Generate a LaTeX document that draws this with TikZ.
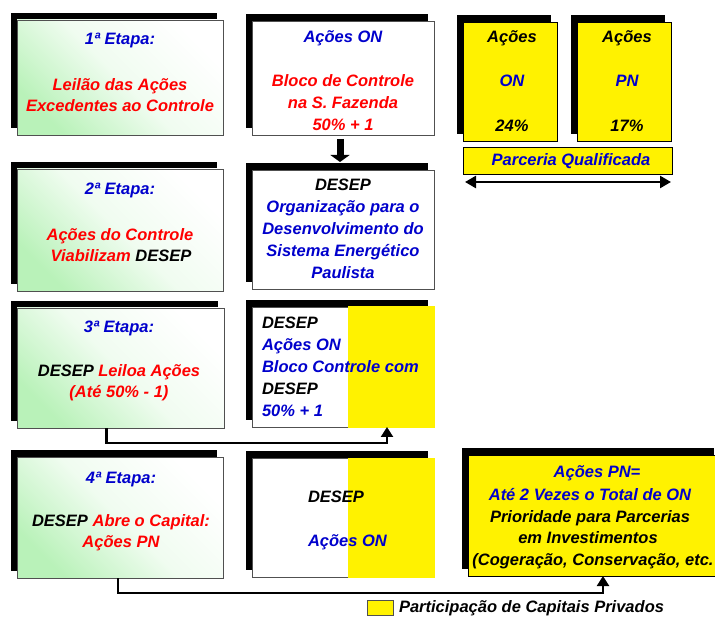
\documentclass[tikz,border=0pt]{standalone}
\usepackage{fontspec}
\setmainfont{Liberation Sans}
\usetikzlibrary{arrows.meta,shadows}
\definecolor{tblue}{RGB}{0,0,204}
\definecolor{tred}{RGB}{255,0,0}
\definecolor{lgreen}{RGB}{185,242,185}
\definecolor{mgreen}{RGB}{240,252,240}
\definecolor{bgray}{RGB}{80,80,80}
\tikzset{
  shadowed/.style={general shadow={fill=black, shadow xshift=-6pt, shadow yshift=7pt}},
  boxbase/.style={shadowed, anchor=north west, inner sep=0pt, outer sep=0pt, line width=0.8pt},
  greenbox/.style={boxbase, draw=bgray, top color=white, bottom color=lgreen, middle color=mgreen, shading angle=-45},
  whitebox/.style={boxbase, draw=bgray, fill=white},
  yellowbox/.style={boxbase, draw=black, fill=yellow},
  plainyellow/.style={anchor=north west, inner sep=0pt, outer sep=0pt, line width=0.8pt, draw=black, fill=yellow},
  lbl/.style={anchor=base, inner sep=0pt, outer sep=0pt, font=\fontsize{16.5}{22}\selectfont\bfseries\itshape},
  lblw/.style={lbl, anchor=base west},
  cblue/.style={text=tblue}, cred/.style={text=tred},
  conn/.style={line width=2.2pt, -{Triangle[length=10pt,width=12pt]}},
}
\begin{document}
\begin{tikzpicture}[x=1pt,y=-1pt]
\fill[white] (0,0) rectangle (715,617);
\useasboundingbox (0,0) rectangle (715,617);

% Row 1
\node[greenbox, minimum width=206pt, minimum height=115pt] (b11) at (17,20) {};
\node[lbl, cblue] (t11a) at (120,45) {1ª Etapa:};
\node[lbl, cred] (t11b) at (120,91) {Leilão das Ações};
\node[lbl, cred] (t11c) at (120,112) {Excedentes ao Controle};

\node[whitebox, minimum width=182pt, minimum height=114pt] (b12) at (252,21) {};
\node[lbl, cblue] (t12a) at (343,43) {Ações ON};
\node[lbl, cred] (t12b) at (343,87) {Bloco de Controle};
\node[lbl, cred] (t12c) at (343,109) {na S. Fazenda};
\node[lbl, cred] (t12d) at (343,131) {50\% + 1};

\node[yellowbox, minimum width=94pt, minimum height=119pt] (b13) at (463,22) {};
\node[lbl] (t13a) at (512,43) {Ações};
\node[lbl, cblue] (t13b) at (512,87) {ON};
\node[lbl] (t13c) at (512,132) {24\%};

\node[yellowbox, minimum width=94pt, minimum height=119pt] (b14) at (577,22) {};
\node[lbl] (t14a) at (627,43) {Ações};
\node[lbl, cblue] (t14b) at (627,87) {PN};
\node[lbl] (t14c) at (627,132) {17\%};

\node[plainyellow, minimum width=209pt, minimum height=27pt] (pq) at (463,147) {};
\node[lbl, cblue] (tpq) at (571,166) {Parceria Qualificada};
\draw[line width=2.5pt, {Triangle[length=11pt,width=12pt]}-{Triangle[length=11pt,width=12pt]}]
  ([xshift=2pt,yshift=-8pt]pq.south west) -- ([xshift=-1pt,yshift=-8pt]pq.south east);

% Row 2
\node[greenbox, minimum width=206pt, minimum height=122pt] (b21) at (17,169) {};
\node[lbl, cblue] (t21a) at (120,195) {2ª Etapa:};
\node[lbl, cred] (t21b) at (120,241) {Ações do Controle};
\node[lbl] (t21c) at (121,262) {\textcolor{tred}{Viabilizam} DESEP};

\node[whitebox, minimum width=182pt, minimum height=119pt] (b22) at (252,170) {};
\node[lbl] (t22a) at (343,191) {DESEP};
\node[lbl, cblue] (t22b) at (343,213) {Organização para o};
\node[lbl, cblue] (t22c) at (343,235) {Desenvolvimento do};
\node[lbl, cblue] (t22d) at (343,257) {Sistema Energético};
\node[lbl, cblue] (t22e) at (343,279) {Paulista};

\draw[line width=7pt, -{Triangle[length=7pt,width=19pt]}]
  ([xshift=-3pt,yshift=-4pt]b12.south) -- ([xshift=-3pt,yshift=8pt]b22.north);

% Row 3
\node[greenbox, minimum width=207pt, minimum height=120pt] (b31) at (17,308) {};
\node[lbl, cblue] (t31a) at (119,333) {3ª Etapa:};
\node[lbl] (t31b) at (119,377) {DESEP \textcolor{tred}{Leiloa Ações}};
\node[lbl, cred] (t31c) at (119,398) {(Até 50\% - 1)};

\node[whitebox, minimum width=182pt, minimum height=120pt] (b32) at (252,307) {};
\fill[yellow] ([xshift=5pt,yshift=0.5pt]b32.north) rectangle ([xshift=0.6pt,yshift=-0.6pt]b32.south east);
\node[lblw] (t32a) at (262,329) {DESEP};
\node[lblw, cblue] (t32b) at (262,351) {Ações ON};
\node[lblw, cblue] (t32c) at (262,373) {Bloco Controle com};
\node[lblw] (t32d) at (262,395) {DESEP};
\node[lblw, cblue] (t32e) at (262,417) {50\% + 1};

\draw[conn] ([xshift=-14pt]b31.south) -- ++(0,15) -| ([xshift=44pt]b32.south);

% Row 4
\node[greenbox, minimum width=206pt, minimum height=121pt] (b41) at (17,457) {};
\node[lbl, cblue] (t41a) at (121,483) {4ª Etapa:};
\node[lbl] (t41b) at (121,526) {DESEP \textcolor{tred}{Abre o Capital:}};
\node[lbl, cred] (t41c) at (121,547) {Ações PN};

\node[whitebox, minimum width=182pt, minimum height=119pt] (b42) at (252,458) {};
\fill[yellow] ([xshift=5pt,yshift=0.5pt]b42.north) rectangle ([xshift=0.6pt,yshift=-0.6pt]b42.south east);
\node[lblw] (t42a) at (308,502) {DESEP};
\node[lblw, cblue] (t42b) at (308,546) {Ações ON};

\node[yellowbox, minimum width=252pt, minimum height=121pt] (b43) at (468,455) {};
\node[lbl, cblue] (t43a) at (597,477) {Ações PN=};
\node[lbl, cblue] (t43b) at (590,500) {Até 2 Vezes o Total de ON};
\node[lbl] (t43c) at (590,522) {Prioridade para Parcerias};
\node[lbl] (t43d) at (588,543) {em Investimentos};
\node[lbl] (t43e) at (593,565) {(Cogeração, Conservação, etc.};

\draw[conn] ([xshift=-2pt]b41.south) -- ++(0,15) -| ([xshift=9pt]b43.south);

% Legend
\node[anchor=north west, inner sep=0pt, outer sep=0pt, line width=0.8pt, draw=bgray, fill=yellow, minimum width=26pt, minimum height=15pt] (leg) at (367,600) {};
\node[lblw] (tleg) at (399,612) {Participação de Capitais Privados};
\end{tikzpicture}
\end{document}
